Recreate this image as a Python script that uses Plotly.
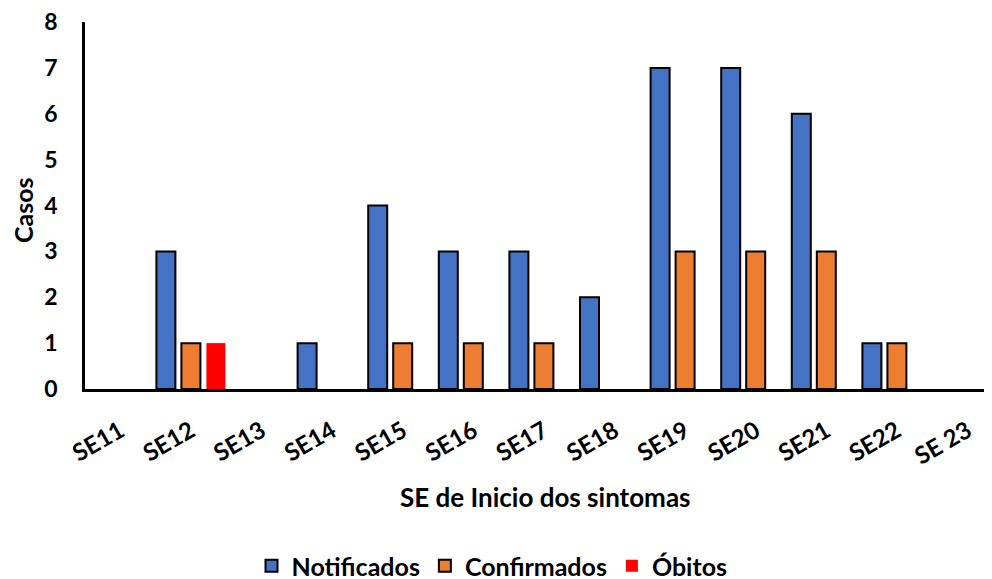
import plotly.graph_objects as go

categories = ["SE11", "SE12", "SE13", "SE14", "SE15", "SE16", "SE17",
              "SE18", "SE19", "SE20", "SE21", "SE22", "SE 23"]
notificados = [0, 3, 0, 1, 4, 3, 3, 2, 7, 7, 6, 1, 0]
confirmados = [0, 1, 0, 0, 1, 1, 1, 0, 3, 3, 3, 1, 0]
obitos = [0, 1, 0, 0, 0, 0, 0, 0, 0, 0, 0, 0, 0]
y_ticks = [0, 1, 2, 3, 4, 5, 6, 7, 8]

FONT = "Lato"
OFF = 8  # page body margin
W, H = 992 - OFF, 579 - OFF
L, T = 85 - OFF, 22 - OFF
plot_bottom = 389 - OFF
B = H - plot_bottom
R = 0
cat_px = 70.6
plot_w = W - L - R
plot_h = H - T - B
x_max = -0.5 + plot_w / cat_px


def px_x(page_x):
    return (page_x - OFF - L) / plot_w


def px_y(page_y):
    return (plot_bottom - (page_y - OFF)) / plot_h


bw = 19.0 / cat_px
step = 25.0 / cat_px

fig = go.Figure()
specs = [
    ("Notificados", notificados, "#4472C4", -step, 2),
    ("Confirmados", confirmados, "#ED7D31", 0.0, 2),
    ("Óbitos", obitos, "#FF0000", step, 0),
]
for name, vals, color, shift, lw in specs:
    fig.add_trace(go.Bar(
        x=categories, y=[v if v else None for v in vals], name=name,
        width=bw, offset=shift - bw / 2,
        marker=dict(color=color, line=dict(color="black", width=lw)),
    ))

fig.update_layout(
    width=W, height=H,
    margin=dict(l=L, r=R, t=T, b=B, pad=0, autoexpand=False),
    barmode="overlay",
    plot_bgcolor="white", paper_bgcolor="white",
    font=dict(family=FONT, size=22, color="black", weight="bold"),
    showlegend=True,
    legend=dict(orientation="h", x=px_x(492), xanchor="center",
                y=px_y(566), yanchor="middle",
                font=dict(family=FONT, size=25, weight="bold"),
                itemwidth=30, tracegroupgap=0, traceorder="normal"),
    xaxis=dict(
        type="category", range=[-0.5, x_max], automargin=False,
        categoryorder="array", categoryarray=categories,
        showline=True, linecolor="black", linewidth=2.5,
        showgrid=False, ticks="", tickangle=-30,
        tickfont=dict(family=FONT, size=24, weight="bold"),
        ticklabelstandoff=16, ticklabeloverflow="allow",
    ),
    yaxis=dict(
        range=[0, 8], tickvals=y_ticks, ticktext=[str(v) for v in y_ticks],
        automargin=False,
        showline=True, linecolor="black", linewidth=2.5,
        showgrid=False, ticks="", zeroline=False,
        tickfont=dict(family=FONT, size=23, weight="bold"),
        ticklabelstandoff=20, ticklabeloverflow="allow",
    ),
    annotations=[
        dict(text="SE de Inicio dos sintomas", xref="paper", yref="paper",
             x=px_x(545), y=px_y(497),
             xanchor="center", yanchor="middle", showarrow=False,
             font=dict(family=FONT, size=26, weight="bold")),
        dict(text="Casos", xref="paper", yref="paper",
             x=px_x(23), y=px_y(210), textangle=-90,
             xanchor="center", yanchor="middle", showarrow=False,
             font=dict(family=FONT, size=25, weight="bold")),
    ],
)

fig.write_html("out.html")
